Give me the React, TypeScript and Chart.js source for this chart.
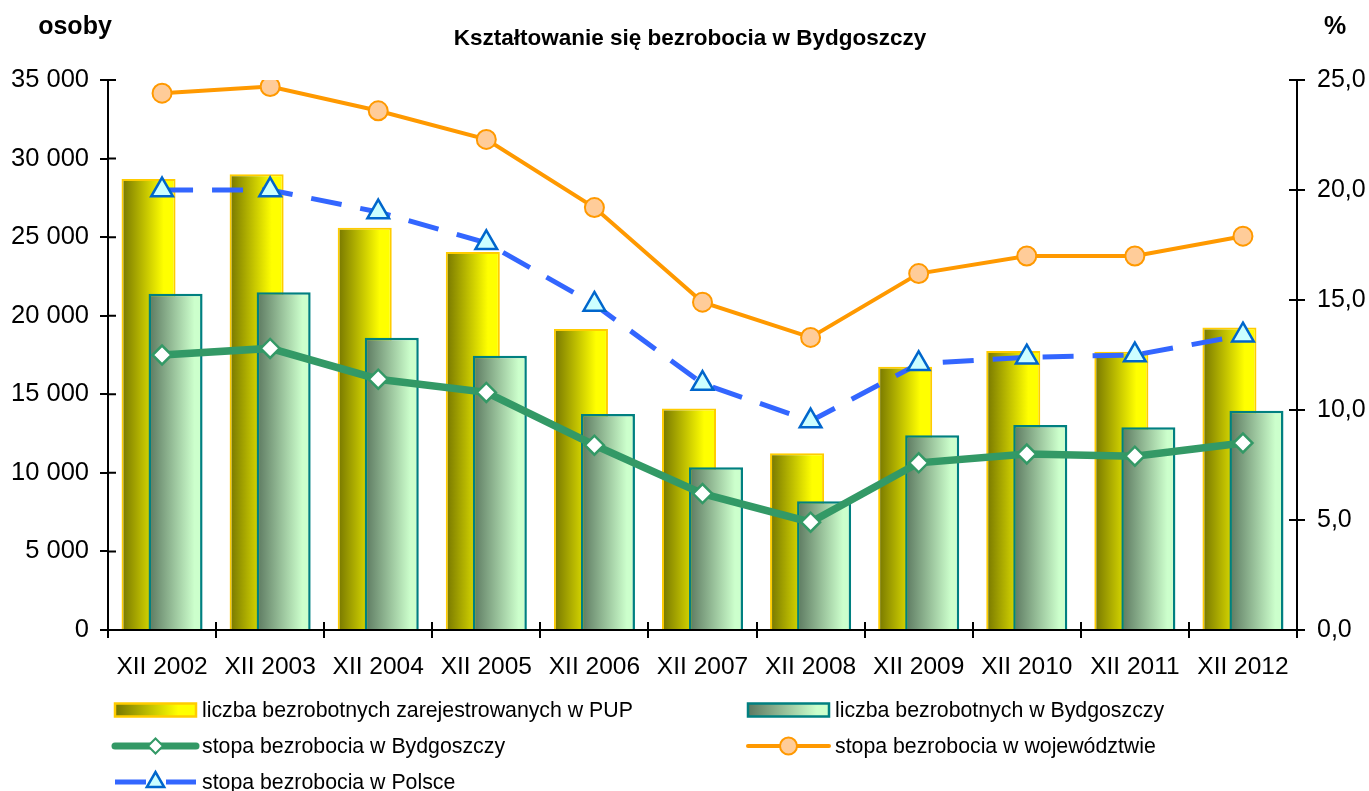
import { useEffect, useRef } from "react";
import { Chart, registerables } from "chart.js";

Chart.register(...registerables);

const categories = ["XII 2002", "XII 2003", "XII 2004", "XII 2005", "XII 2006", "XII 2007", "XII 2008", "XII 2009", "XII 2010", "XII 2011", "XII 2012"];
const registeredPUP = [28700, 29000, 25600, 24050, 19150, 14100, 11250, 16750, 17750, 17700, 19250];
const unemployedCity = [21400, 21500, 18600, 17450, 13750, 10350, 8200, 12400, 13050, 12900, 13950];
const rateCity = [12.5, 12.8, 11.4, 10.8, 8.4, 6.2, 4.9, 7.6, 8.0, 7.9, 8.5];
const rateRegion = [24.4, 24.7, 23.6, 22.3, 19.2, 14.9, 13.3, 16.2, 17.0, 17.0, 17.9];
const ratePoland = [20.0, 20.0, 19.0, 17.6, 14.8, 11.2, 9.5, 12.1, 12.4, 12.5, 13.4];
const leftAxisMax = 35000;
const leftAxisStep = 5000;
const rightAxisMax = 25;
const rightAxisStep = 5;

const seriesLabels = [
  "liczba bezrobotnych zarejestrowanych w PUP",
  "liczba bezrobotnych w Bydgoszczy",
  "stopa bezrobocia w Bydgoszczy",
  "stopa bezrobocia w województwie",
  "stopa bezrobocia w Polsce",
];
const titleText = "Kształtowanie się bezrobocia w Bydgoszczy";
const leftAxisTitle = "osoby";
const rightAxisTitle = "%";

const FONT = "'Liberation Sans', Arial, sans-serif";
const BAR_WIDTH = 0.5;
const BAR_SHIFT = 0.125;

const yellowStops: [number, string][] = [[0, "#767600"], [0.78, "#FFFF00"], [1, "#FFFF00"]];
const tealStops: [number, string][] = [[0, "#5C7860"], [0.85, "#CCFFCC"], [1, "#CCFFCC"]];

const COLORS = {
  yellowBorder: "#FFCC00",
  tealBorder: "#008080",
  green: "#339966",
  orange: "#FF9900",
  orangeFill: "#FFCC99",
  blue: "#3366FF",
  blueMarker: "#0066CC",
  blueFill: "#CCFFFF",
};

function barGradient(ctx: any, stops: [number, string][], shift: number) {
  const chart = ctx.chart;
  const xs = chart.scales && chart.scales.x;
  if (!xs || ctx.type !== "data" || !xs.width) return stops[stops.length - 1][1];
  const cw = xs.width / categories.length;
  const cx = xs.getPixelForValue(ctx.dataIndex) + shift * cw;
  const w = cw * BAR_WIDTH;
  const g = chart.ctx.createLinearGradient(cx - w / 2, 0, cx + w / 2, 0);
  stops.forEach(([o, c]) => g.addColorStop(o, c));
  return g;
}

function drawMarker(c: CanvasRenderingContext2D, style: string, x: number, y: number, r: number, fill: string, stroke: string, lw: number) {
  c.save();
  c.beginPath();
  if (style === "circle") {
    c.arc(x, y, r, 0, Math.PI * 2);
  } else if (style === "rectRot") {
    c.moveTo(x - r, y);
    c.lineTo(x, y - r);
    c.lineTo(x + r, y);
    c.lineTo(x, y + r);
    c.closePath();
  } else {
    const edge = (3 * r) / Math.sqrt(3);
    const h = (edge * Math.sqrt(3)) / 2;
    c.moveTo(x - edge / 2, y + h / 3);
    c.lineTo(x + edge / 2, y + h / 3);
    c.lineTo(x, y - (2 * h) / 3);
    c.closePath();
  }
  c.fillStyle = fill;
  c.fill();
  c.lineWidth = lw;
  c.strokeStyle = stroke;
  c.stroke();
  c.restore();
}

const barShiftPlugin = {
  id: "barShift",
  afterDatasetsUpdate(chart: any) {
    const xs = chart.scales.x;
    const cw = xs.width / categories.length;
    [[0, -BAR_SHIFT], [1, BAR_SHIFT]].forEach(([i, s]) => {
      chart.getDatasetMeta(i).data.forEach((el: any) => {
        el.x += s * cw;
      });
    });
  },
};

const decorPlugin = {
  id: "decor",
  afterDraw(chart: any) {
    const c: CanvasRenderingContext2D = chart.ctx;
    const { left, right, bottom } = chart.chartArea;
    c.save();
    // inner halves of tick marks
    c.strokeStyle = "#000";
    c.lineWidth = 2;
    const n = categories.length;
    const cw = (right - left) / n;
    c.beginPath();
    for (let i = 0; i <= n; i++) {
      const x = Math.round(left + i * cw);
      c.moveTo(x, bottom);
      c.lineTo(x, bottom - 8);
    }
    const ys = chart.scales.y;
    ys.ticks.forEach((t: any) => {
      const y = ys.getPixelForValue(t.value);
      c.moveTo(left, y);
      c.lineTo(left + 8, y);
    });
    const y1 = chart.scales.y1;
    y1.ticks.forEach((t: any) => {
      const y = y1.getPixelForValue(t.value);
      c.moveTo(right, y);
      c.lineTo(right - 8, y);
    });
    c.stroke();

    // titles
    c.fillStyle = "#000";
    c.textBaseline = "middle";
    c.font = `bold 22.5px ${FONT}`;
    c.textAlign = "center";
    c.fillText(titleText, 690, 39);
    c.font = `bold 25px ${FONT}`;
    c.fillText(leftAxisTitle, 75, 27);
    c.fillText(rightAxisTitle, 1335, 27);

    // legend
    const colX = [115, 748];
    const rowY = [710, 746, 782];
    const sw = 81;
    c.font = `21.3px ${FONT}`;
    c.textAlign = "left";
    const drawBarItem = (x: number, y: number, stops: [number, string][], border: string, label: string) => {
      const g = c.createLinearGradient(x, 0, x + sw, 0);
      stops.forEach(([o, col]) => g.addColorStop(o, col));
      c.fillStyle = g;
      c.fillRect(x, y - 6.5, sw, 13);
      c.lineWidth = 2.5;
      c.strokeStyle = border;
      c.strokeRect(x, y - 6.5, sw, 13);
      c.fillStyle = "#000";
      c.fillText(label, x + sw + 6, y + 1);
    };
    const drawLineItem = (x: number, y: number, color: string, width: number, dash: number[], marker: string, r: number, fill: string, mstroke: string, mlw: number, label: string) => {
      c.save();
      c.strokeStyle = color;
      c.lineWidth = width;
      c.lineCap = dash.length ? "butt" : "round";
      c.setLineDash(dash);
      c.beginPath();
      c.moveTo(x, y);
      c.lineTo(x + sw, y);
      c.stroke();
      c.restore();
      drawMarker(c, marker, x + sw / 2, y, r, fill, mstroke, mlw);
      c.fillStyle = "#000";
      c.fillText(label, x + sw + 6, y + 1);
    };
    drawBarItem(colX[0], rowY[0], yellowStops, COLORS.yellowBorder, seriesLabels[0]);
    drawBarItem(colX[1], rowY[0], tealStops, COLORS.tealBorder, seriesLabels[1]);
    drawLineItem(colX[0], rowY[1], COLORS.green, 7, [], "rectRot", 7.5, "#FFFFFF", COLORS.green, 2, seriesLabels[2]);
    drawLineItem(colX[1], rowY[1], COLORS.orange, 4, [], "circle", 8.5, COLORS.orangeFill, COLORS.orange, 2, seriesLabels[3]);
    drawLineItem(colX[0], rowY[2], COLORS.blue, 5, [31, 20], "triangle", 10, COLORS.blueFill, COLORS.blueMarker, 2.5, seriesLabels[4]);
    c.restore();
  },
};

export default function App() {
  const ref = useRef<HTMLCanvasElement | null>(null);
  useEffect(() => {
    if (!ref.current) return;
    Chart.defaults.font.family = FONT;
    const axisGrid = { display: true, drawOnChartArea: false, drawTicks: true, tickLength: 8, color: "#000", lineWidth: 2 };
    const axisBorder = { display: true, color: "#000", width: 2 };
    const tickFont = { size: 24.5, family: FONT };
    const chart = new Chart(ref.current, {
      type: "bar",
      data: {
        labels: categories,
        datasets: [
          {
            type: "bar",
            label: seriesLabels[0],
            data: registeredPUP,
            yAxisID: "y",
            order: 5,
            grouped: false,
            categoryPercentage: 1,
            barPercentage: BAR_WIDTH,
            backgroundColor: (ctx: any) => barGradient(ctx, yellowStops, -BAR_SHIFT),
            borderColor: COLORS.yellowBorder,
            borderWidth: 2,
            borderSkipped: "start",
          } as any,
          {
            type: "bar",
            label: seriesLabels[1],
            data: unemployedCity,
            yAxisID: "y",
            order: 4,
            grouped: false,
            categoryPercentage: 1,
            barPercentage: BAR_WIDTH,
            backgroundColor: (ctx: any) => barGradient(ctx, tealStops, BAR_SHIFT),
            borderColor: COLORS.tealBorder,
            borderWidth: 2.5,
            borderSkipped: "start",
          } as any,
          {
            type: "line",
            label: seriesLabels[2],
            data: rateCity,
            yAxisID: "y1",
            order: 3,
            borderColor: COLORS.green,
            borderWidth: 7.5,
            pointStyle: "rectRot",
            pointRadius: 9.5,
            pointBackgroundColor: "#FFFFFF",
            pointBorderColor: COLORS.green,
            pointBorderWidth: 2.5,
            tension: 0,
          } as any,
          {
            type: "line",
            label: seriesLabels[3],
            data: rateRegion,
            yAxisID: "y1",
            order: 1,
            borderColor: COLORS.orange,
            borderWidth: 4,
            pointStyle: "circle",
            pointRadius: 9.5,
            pointBackgroundColor: COLORS.orangeFill,
            pointBorderColor: COLORS.orange,
            pointBorderWidth: 2,
            tension: 0,
          } as any,
          {
            type: "line",
            label: seriesLabels[4],
            data: ratePoland,
            yAxisID: "y1",
            order: 2,
            borderColor: COLORS.blue,
            borderWidth: 5,
            borderDash: [31, 19],
            pointStyle: "triangle",
            pointRadius: 12.5,
            pointBackgroundColor: COLORS.blueFill,
            pointBorderColor: COLORS.blueMarker,
            pointBorderWidth: 2.5,
            tension: 0,
          } as any,
        ],
      },
      options: {
        animation: false,
        responsive: false,
        maintainAspectRatio: false,
        events: [],
        layout: { padding: { top: 80, left: 0, right: 0, bottom: 0 } },
        plugins: {
          legend: { display: false },
          title: { display: false },
          tooltip: { enabled: false },
        },
        scales: {
          x: {
            offset: true,
            grid: { ...axisGrid, offset: true },
            border: axisBorder,
            ticks: { font: tickFont, color: "#000", padding: 15, maxRotation: 0, autoSkip: false },
            afterFit: (s: any) => {
              s.height = 791 - 630;
            },
          },
          y: {
            position: "left",
            min: 0,
            max: leftAxisMax,
            grid: axisGrid,
            border: axisBorder,
            ticks: {
              stepSize: leftAxisStep,
              font: { size: 25.5, family: FONT },
              color: "#000",
              padding: 11,
              callback: (v: any) => Number(v).toLocaleString("en-US").replace(/,/g, " "),
            },
            afterFit: (s: any) => {
              s.width = 108;
            },
          },
          y1: {
            position: "right",
            min: 0,
            max: rightAxisMax,
            grid: axisGrid,
            border: axisBorder,
            ticks: {
              stepSize: rightAxisStep,
              font: { size: 25, family: FONT },
              color: "#000",
              padding: 12,
              callback: (v: any) => Number(v).toFixed(1).replace(".", ","),
            },
            afterFit: (s: any) => {
              s.width = 1369 - 1297;
            },
          },
        },
      } as any,
      plugins: [barShiftPlugin, decorPlugin],
    });
    return () => chart.destroy();
  }, []);
  return (
    <div style={{ position: "fixed", left: 0, top: 0, width: 1369, height: 791, background: "#fff" }}>
      <canvas ref={ref} width={1369} height={791} style={{ width: 1369, height: 791, display: "block" }} />
    </div>
  );
}
